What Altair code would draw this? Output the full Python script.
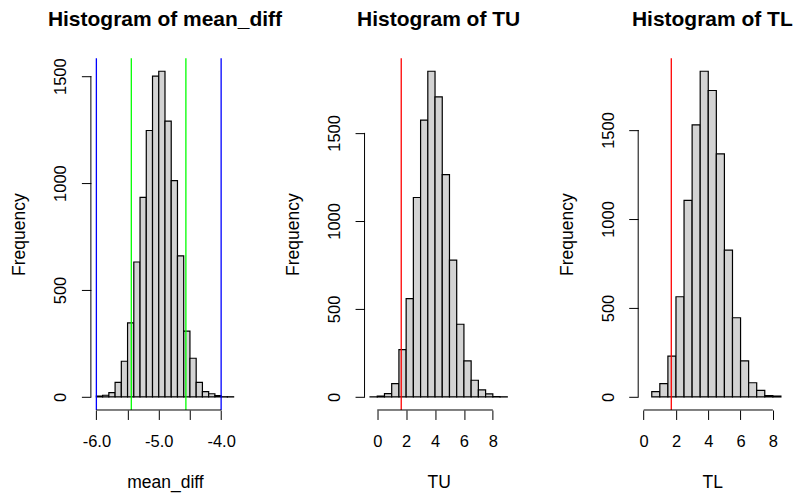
import altair as alt
import pandas as pd

# ---- data ----
# Histogram of mean_diff (bin width 0.1)
md_left = [-6.0, -5.9, -5.8, -5.7, -5.6, -5.5, -5.4, -5.3, -5.2, -5.1, -5.0,
           -4.9, -4.8, -4.7, -4.6, -4.5, -4.4, -4.3, -4.2, -4.1, -4.0, -3.9]
md_count = [4, 8, 20, 68, 167, 346, 631, 933, 1246, 1500, 1523,
            1290, 1012, 660, 308, 181, 68, 25, 15, 6, 1, 1]
md_ticks = [-6.0, -5.5, -5.0, -4.5, -4.0]
md_lines = [-6.0, -5.44, -4.565, -4.0]
md_line_colors = ["#0000FF", "#00FF00", "#00FF00", "#0000FF"]

# Histogram of TU (bin width 0.5)
tu_left = [-0.5, 0.0, 0.5, 1.0, 1.5, 2.0, 2.5, 3.0, 3.5, 4.0, 4.5,
           5.0, 5.5, 6.0, 6.5, 7.0, 7.5, 8.0, 8.5]
tu_count = [1, 5, 19, 76, 269, 559, 1133, 1572, 1850, 1705, 1263,
            777, 413, 205, 95, 40, 18, 2, 1]
tu_lines = [1.66]
tu_line_colors = ["#FF0000"]

# Histogram of TL (bin width 0.5)
tl_left = [0.0, 0.5, 1.0, 1.5, 2.0, 2.5, 3.0, 3.5, 4.0, 4.5,
           5.0, 5.5, 6.0, 6.5, 7.0, 7.5, 8.0]
tl_count = [0, 30, 75, 229, 563, 1105, 1529, 1830, 1722, 1366,
            825, 445, 203, 80, 37, 8, 5]
tl_lines = [1.71]
tl_line_colors = ["#FF0000"]

int_ticks = [0, 2, 4, 6, 8]
freq_ticks = [0, 500, 1000, 1500]

# ---- styling ----
FONT = "Liberation Sans"
W = 148.4
H = 352.2
TICK = 9.5


def panel(title, xname, left, count, bw, ticks, lines, colors, label_expr):
    df = pd.DataFrame({"x0": left, "x1": [round(v + bw, 4) for v in left],
                       "count": count, "base": [0] * len(left)})
    lo, hi = left[0], left[-1] + bw
    span = hi - lo
    xdom = [lo - 0.04 * span, hi + 0.04 * span]
    M = max(count)
    ydom = [-0.04 * M, 1.04 * M]
    xs = alt.Scale(domain=xdom, nice=False, zero=False)
    ys = alt.Scale(domain=ydom, nice=False, zero=False)

    xaxis = alt.Axis(values=ticks, labelExpr=label_expr, domain=False, grid=False,
                     tickSize=TICK, tickColor="black", tickWidth=1,
                     labelFont=FONT, labelFontSize=16.5, labelColor="black",
                     labelBaseline="alphabetic", labelPadding=27.5, labelFlush=False,
                     labelOverlap=False,
                     title=xname, titleFont=FONT, titleFontSize=17.5,
                     titleFontWeight="normal", titleColor="black",
                     titleBaseline="alphabetic", titleAlign="center",
                     titleX=W / 2, titleY=77.5)
    yaxis = alt.Axis(values=freq_ticks, format="d", domain=False, grid=False,
                     tickSize=TICK, tickColor="black", tickWidth=1,
                     labelFont=FONT, labelFontSize=16.5, labelColor="black",
                     labelAngle=270, labelAlign="center", labelBaseline="alphabetic",
                     labelPadding=15.5, labelFlush=False, labelOverlap=False,
                     title="Frequency", titleFont=FONT, titleFontSize=17.5,
                     titleFontWeight="normal", titleColor="black",
                     titleAngle=270, titleAlign="center", titleBaseline="alphabetic",
                     titleX=-66, titleY=H / 2)

    bars = alt.Chart(df).transform_filter("datum.count > 0").mark_rect(
        fill="#D3D3D3", stroke="black", strokeWidth=1.2
    ).encode(
        x=alt.X("x0:Q", scale=xs, axis=xaxis),
        x2="x1:Q",
        y=alt.Y("base:Q", scale=ys, axis=yaxis),
        y2="count:Q",
    )

    ldf = pd.DataFrame({"v": lines, "c": colors})
    vlines = alt.Chart(ldf).mark_rule(strokeWidth=1.3).encode(
        x=alt.X("v:Q", scale=xs, axis=xaxis),
        y=alt.Y(datum=ydom[0], scale=ys, axis=yaxis),
        y2=alt.datum(ydom[1]),
        color=alt.Color("c:N", scale=None, legend=None),
    )

    yline = alt.Chart(pd.DataFrame({"a": [freq_ticks[0]], "b": [freq_ticks[-1]]})).mark_rule(
        color="black", strokeWidth=1
    ).encode(
        x=alt.X(datum=xdom[0], scale=xs, axis=xaxis),
        y=alt.Y("a:Q", scale=ys, axis=yaxis),
        y2="b:Q",
    )
    xline = alt.Chart(pd.DataFrame({"a": [ticks[0]], "b": [ticks[-1]]})).mark_rule(
        color="black", strokeWidth=1
    ).encode(
        x=alt.X("a:Q", scale=xs, axis=xaxis),
        x2="b:Q",
        y=alt.Y(datum=ydom[0], scale=ys, axis=yaxis),
    )

    return alt.layer(bars, vlines, yline, xline).properties(
        width=W, height=H,
        title=alt.TitleParams(title, font=FONT, fontSize=21, fontWeight="bold",
                              color="black", anchor="middle", frame="group",
                              baseline="alphabetic", offset=10.5),
    )


md_expr = ("abs(datum.value - round(datum.value)) < 0.01 ? "
           "'-' + format(abs(datum.value), '.1f') : ''")
int_expr = "format(datum.value, 'd')"

p1 = panel("Histogram of mean_diff", "mean_diff", md_left, md_count, 0.1,
           md_ticks, md_lines, md_line_colors, md_expr)
p2 = panel("Histogram of TU", "TU", tu_left, tu_count, 0.5,
           int_ticks, tu_lines, tu_line_colors, int_expr)
p3 = panel("Histogram of TL", "TL", tl_left, tl_count, 0.5,
           int_ticks, tl_lines, tl_line_colors, int_expr)

chart = alt.hconcat(p1, p2, p3, spacing=125, bounds="flush").properties(
    padding={"left": 10, "top": 8, "right": 0, "bottom": 8},
    background="white",
).configure_view(stroke=None)

chart.save("out.html", embed_options={"renderer": "svg", "actions": False})
